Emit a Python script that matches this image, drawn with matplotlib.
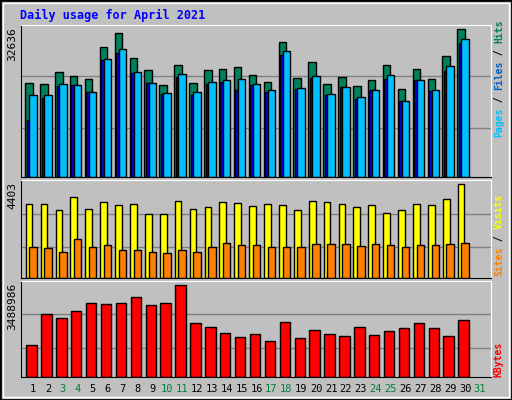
import matplotlib
matplotlib.use("Agg")
import matplotlib.pyplot as plt
from matplotlib.patches import Rectangle
import numpy as np

# values
days = list(range(1, 31))
hits = [20675, 20454, 23186, 22226, 21561, 28650, 31751, 26213, 23555, 20232,
        24663, 20675, 23555, 23776, 24220, 22447, 20897, 29757, 21783, 25327,
        20454, 22004, 20011, 21340, 24663, 19346, 23776, 21561, 26656, 32636]
files = [18017, 18017, 20454, 20232, 18682, 25992, 28207, 23112, 20675, 18460,
         22669, 18682, 20897, 21340, 21561, 20454, 19125, 27764, 19568, 22226,
         18239, 19789, 17574, 19125, 22447, 16909, 21340, 19125, 24441, 30422]
pages = [12700, 17352, 20011, 20232, 18682, 25770, 27321, 22890, 20675, 18239,
         22004, 18017, 20454, 20897, 19125, 20232, 18682, 26878, 19346, 21783,
         18017, 19789, 17131, 19125, 21561, 16909, 21340, 18903, 23334, 29536]
visits = [3493, 3493, 3206, 3828, 3254, 3589, 3445, 3493, 3015, 3015,
          3637, 3254, 3350, 3589, 3541, 3397, 3493, 3445, 3206, 3637,
          3589, 3493, 3350, 3445, 3062, 3206, 3493, 3445, 3732, 4403]
sites = [1436, 1388, 1244, 1818, 1436, 1531, 1340, 1340, 1244, 1196,
         1340, 1244, 1436, 1627, 1531, 1531, 1436, 1436, 1436, 1579,
         1579, 1579, 1483, 1579, 1531, 1436, 1531, 1531, 1579, 1627]
kbytes = [1226880, 2377080, 2223720, 2492100, 2798820, 2760480, 2798820, 3028860, 2722140, 2798820,
          3488986, 2032020, 1878660, 1686960, 1533600, 1648620, 1380240, 2070360, 1495260, 1801980,
          1648620, 1571940, 1878660, 1610280, 1763640, 1840320, 2032020, 1840320, 1571940, 2147040]
weekend = [3, 4, 10, 11, 17, 18, 24, 25, 31]

W, H = 512, 400
BG = "#c0c0c0"
MONO = "DejaVu Sans Mono"

fig = plt.figure(figsize=(W / 100, H / 100), dpi=100, facecolor=BG)
fig.patches.append(Rectangle((0, 0), 1, 1, transform=fig.transFigure, fill=False,
                             edgecolor="black", linewidth=2))
fig.patches.append(Rectangle((3 / W, 3 / H), 1 - 6 / W, 1 - 6 / H, transform=fig.transFigure,
                             fill=False, edgecolor="white", linewidth=1))


def panel(top, bottom):
    ax = fig.add_axes([20.7 / W, 1 - bottom / H, 470 / W, (bottom - top) / H])
    ax.set_facecolor(BG)
    ax.set_xlim(0.17, 31.72)
    ax.set_xticks([])
    ax.set_yticks([])
    for s in ["top", "right"]:
        ax.spines[s].set_color("white")
    for s in ["bottom", "left"]:
        ax.spines[s].set_color("black")
    return ax


d = np.array(days)
kw = dict(edgecolor="black", linewidth=1, align="edge")

ax1 = panel(25, 177)
ax1.set_ylim(0, 33597)
for g in [10928, 22225]:
    ax1.axhline(g, color="#808080", linewidth=1, zorder=0)
ax1.bar(d - 0.52, hits, width=0.5, color="#00805c", **kw)
ax1.bar(d - 0.42, pages, width=0.45, color="#0000ff", **kw)
ax1.bar(d - 0.25, files, width=0.5, color="#00c0ff", **kw)

ax2 = panel(180, 278)
ax2.set_ylim(0, 4610)
for g in [1451, 3015]:
    ax2.axhline(g, color="#808080", linewidth=1, zorder=0)
ax2.bar(d - 0.49, visits, width=0.45, color="#ffff00", **kw)
ax2.bar(d - 0.25, sites, width=0.5, color="#ff8000", **kw)

ax3 = panel(281, 377)
ax3.set_ylim(0, 3642300)
for g in [1111860, 2377080]:
    ax3.axhline(g, color="#808080", linewidth=1, zorder=0)
ax3.bar(d - 0.45, kbytes, width=0.7, color="#ff0000", **kw)

fig.text(20 / W, 1 - 15 / H, "Daily usage for April 2021", color="#0000ff",
         family=MONO, fontweight="bold", fontsize=8.5, va="center", ha="left")

# max labels on the left
for txt, ytop in [("32636", 27), ("4403", 182), ("3488986", 283)]:
    fig.text(12 / W, 1 - ytop / H, txt, rotation=90, family=MONO, fontsize=8,
             va="top", ha="center")

# right side legends, stacked bottom-up
cw = 5.85


def right_label(parts, ybottom):
    y = ybottom
    for txt, col in parts:
        fig.text(499 / W, 1 - y / H, txt, rotation=90, family=MONO, fontsize=7,
                 fontweight="bold", color=col, va="bottom", ha="center")
        y -= cw * len(txt)


right_label([("Pages", "#00c0ff"), (" / ", "black"), ("Files", "#0060c0"),
             (" / ", "black"), ("Hits", "#00805c")], 137)
right_label([("Sites", "#ff8000"), (" / ", "black"), ("Visits", "#ffff00")], 276)
right_label([("KBytes", "#ff0000")], 377)

for day in range(1, 32):
    x = 33 + 14.9 * (day - 1)
    fig.text(x / W, 1 - 389 / H, str(day), family=MONO, fontsize=7.5, ha="center",
             va="center", color="#008040" if day in weekend else "black")

fig.savefig("out.png", dpi=100, facecolor=BG)
